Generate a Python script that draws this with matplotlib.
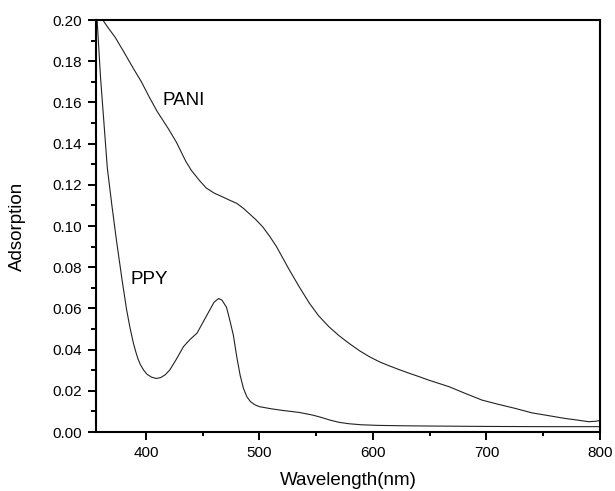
import matplotlib
matplotlib.use("Agg")
import matplotlib.pyplot as plt
from matplotlib.ticker import MultipleLocator

plt.rcParams['font.family'] = ['Liberation Sans', 'DejaVu Sans']

pani_x = [356, 362, 367, 373, 380, 389, 396, 403, 410, 420, 427, 431, 435, 440, 447, 453,
          460, 468, 475, 480, 486, 491, 497, 503, 509, 515, 520, 526, 535, 544, 552,
          561, 570, 579, 588, 597, 606, 614, 623, 632, 641, 649, 658, 667, 681, 696,
          710, 725, 740, 754, 769, 780, 790, 796, 800]
pani_y = [0.2065, 0.2000, 0.1960, 0.1915, 0.1850, 0.1764, 0.1700, 0.1625, 0.1555, 0.1470,
          0.1405, 0.1360, 0.1315, 0.1270, 0.1222, 0.1185, 0.1160, 0.1140, 0.1122, 0.1110,
          0.1085, 0.1060, 0.1030, 0.0995, 0.0950, 0.0900, 0.0850, 0.0790, 0.0705, 0.0625,
          0.0565, 0.0512, 0.0468, 0.0430, 0.0395, 0.0365, 0.0340, 0.0322, 0.0303, 0.0285,
          0.0268, 0.0252, 0.0236, 0.0220, 0.0188, 0.0155, 0.0135, 0.0115, 0.0093, 0.0080,
          0.0066, 0.0058, 0.0050, 0.0052, 0.0056]

ppy_x = [356, 357, 360, 362.5, 366, 370, 374, 379, 383, 386, 389, 391, 393, 395, 398, 401,
         405, 409, 413, 417, 421, 427, 433, 439, 445, 450, 455, 460, 464, 467, 471, 474,
         477, 480, 483, 486, 489, 492, 496, 500, 510, 520, 535, 547, 555, 562, 570, 579,
         590, 605, 630, 650, 700, 750, 800]
ppy_y = [0.2030, 0.2000, 0.1720, 0.1537, 0.1280, 0.1100, 0.0931, 0.0737, 0.0592, 0.0505,
         0.0430, 0.0390, 0.0355, 0.0328, 0.0300, 0.0280, 0.0266, 0.0260, 0.0264, 0.0278,
         0.0301, 0.0355, 0.0414, 0.0450, 0.0480, 0.0530, 0.0580, 0.0630, 0.0648, 0.0640,
         0.0605, 0.0540, 0.0470, 0.0365, 0.0275, 0.0210, 0.0170, 0.0148, 0.0132, 0.0123,
         0.0113, 0.0105, 0.0095, 0.0082, 0.0070, 0.0058, 0.0047, 0.0040, 0.0035, 0.0032,
         0.0030, 0.0029, 0.0027, 0.0026, 0.0026]

x_ticks = [400, 500, 600, 700, 800]
y_ticks = [0.00, 0.02, 0.04, 0.06, 0.08, 0.10, 0.12, 0.14, 0.16, 0.18, 0.20]

fig = plt.figure(figsize=(6.15, 4.91), dpi=100)
ax = fig.add_axes([96/615, 1 - 432/491, 504/615, 412/491])

ax.plot(pani_x, pani_y, color='#222222', lw=0.8)
ax.plot(ppy_x, ppy_y, color='#222222', lw=0.8)

ax.set_xlim(356, 800)
ax.set_ylim(0, 0.20)
ax.set_xticks(x_ticks)
ax.set_yticks(y_ticks)
ax.set_yticklabels([f"{v:.2f}" for v in y_ticks])
ax.xaxis.set_minor_locator(MultipleLocator(50))
ax.yaxis.set_minor_locator(MultipleLocator(0.01))

for s in ax.spines.values():
    s.set_linewidth(1.5)

ax.tick_params(axis='both', which='major', direction='out', width=1.4, labelsize=11,
               top=False, right=False, pad=4, length=6)
ax.tick_params(axis='x', which='minor', direction='out', length=3, width=1.4, top=False)
ax.tick_params(axis='y', which='minor', direction='out', length=3.5, width=1.4, right=False)

ax.set_xlabel("Wavelength(nm)", fontsize=13.5)
ax.set_ylabel("Adsorption", fontsize=13.5)
ax.xaxis.set_label_coords(0.5, (432 - 472) / 412)
ax.yaxis.set_label_coords((26 - 96) / 504, 0.5)

ax.text(415, 0.161, "PANI", fontsize=13.5, ha='left', va='center')
ax.text(386, 0.0742, "PPY", fontsize=13.5, ha='left', va='center')

fig.savefig("out.png", dpi=100)
